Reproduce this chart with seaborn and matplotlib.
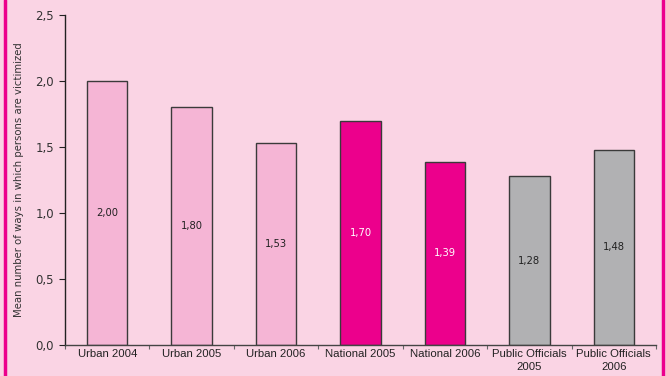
import matplotlib
matplotlib.use("Agg")
import matplotlib.pyplot as plt
from matplotlib.lines import Line2D
from matplotlib.ticker import FixedLocator, FuncFormatter
import seaborn as sns
import pandas as pd

categories = ["Urban 2004", "Urban 2005", "Urban 2006", "National 2005",
              "National 2006", "Public Officials\n2005", "Public Officials\n2006"]
values = [2.00, 1.80, 1.53, 1.70, 1.39, 1.28, 1.48]
colors = ["#f5b5d5", "#f5b5d5", "#f5b5d5", "#ec008c", "#ec008c", "#b1b1b3", "#b1b1b3"]
label_colors = ["#222222", "#222222", "#222222", "white", "white", "#222222", "#222222"]

bg = "#fad4e4"
sns.set_theme(style="white")
plt.rcParams["font.family"] = ["DejaVu Sans"]

df = pd.DataFrame({"cat": categories, "val": values})

fig = plt.figure(figsize=(6.66, 3.76), dpi=100, facecolor=bg)
ax = fig.add_axes([65 / 666, 31 / 376, 591 / 666, 330 / 376])
ax.set_facecolor(bg)

sns.barplot(data=df, x="cat", y="val", hue="cat", palette=colors, legend=False,
            saturation=1, width=0.48, edgecolor="#3a3a3a", linewidth=1.0, ax=ax)

for i, (v, c) in enumerate(zip(values, label_colors)):
    ax.text(i, v / 2, f"{v:.2f}".replace(".", ","), ha="center", va="center",
            fontsize=7.2, color=c)

ax.set_xlim(-0.5, len(categories) - 0.5)
ax.set_ylim(0, 2.5)
ax.set_yticks([0, 0.5, 1.0, 1.5, 2.0, 2.5])
ax.yaxis.set_major_formatter(FuncFormatter(lambda y, _: f"{y:.1f}".replace(".", ",")))
ax.tick_params(axis="y", which="major", direction="out", length=4, width=0.8,
               color="#222222", labelsize=8.5, labelcolor="#333333", pad=4, left=True)

# category boundaries carry the tick marks, names sit centred under the bars
ax.xaxis.set_major_locator(FixedLocator([i - 0.5 for i in range(len(categories) + 1)]))
ax.xaxis.set_major_formatter(FuncFormatter(lambda x, _: ""))
ax.xaxis.set_minor_locator(FixedLocator(list(range(len(categories)))))
ax.set_xticklabels(categories, minor=True, fontsize=8.2, color="#222222",
                   family="Liberation Sans", linespacing=1.35)
ax.tick_params(axis="x", which="major", direction="out", length=3, width=0.8,
               color="#666666", bottom=True)
ax.tick_params(axis="x", which="minor", length=0, pad=3)

ax.set_xlabel("")
ax.set_ylabel("Mean number of ways in which persons are victimized",
              fontsize=7.3, color="#333333", labelpad=8)

for side in ["top", "right"]:
    ax.spines[side].set_visible(False)
ax.spines["left"].set_color("#222222")
ax.spines["bottom"].set_color("#444444")
ax.spines["left"].set_linewidth(1.0)
ax.spines["bottom"].set_linewidth(1.0)

# magenta page borders
fig.add_artist(Line2D([4.5 / 666, 4.5 / 666], [0, 1], color="#ec008c", linewidth=2.5))
fig.add_artist(Line2D([663 / 666, 663 / 666], [0, 1], color="#ec008c", linewidth=2.5))

fig.savefig("out.png", dpi=100, facecolor=bg)
